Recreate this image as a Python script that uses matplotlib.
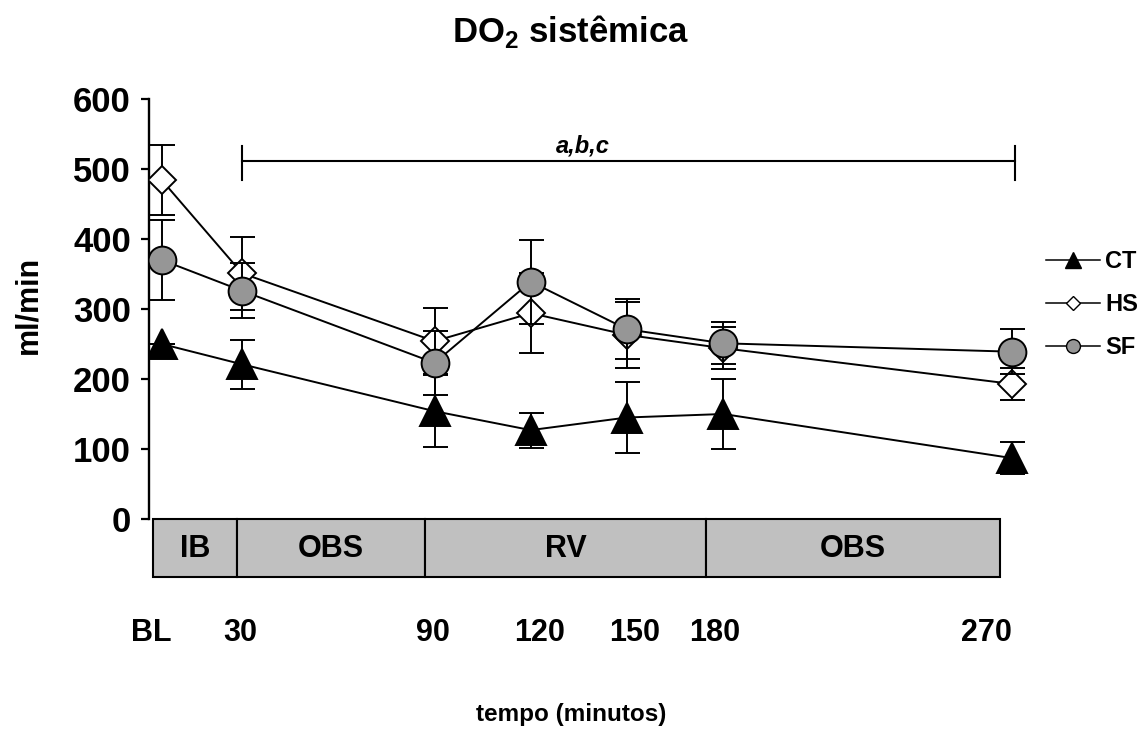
import matplotlib
matplotlib.use("Agg")
import matplotlib.pyplot as plt
from matplotlib.lines import Line2D
from matplotlib.patches import Rectangle

plt.rcParams['font.family'] = ['Liberation Sans', 'DejaVu Sans']
plt.rcParams['font.weight'] = 'bold'
plt.rcParams['mathtext.fontset'] = 'custom'
plt.rcParams['mathtext.rm'] = 'Liberation Sans:bold'
plt.rcParams['mathtext.bf'] = 'Liberation Sans:bold'

# dados (ml/min), media e erro padrao
tempos = [5, 30, 90, 120, 150, 180, 270]
rotulos_x = ['BL', '30', '90', '120', '150', '180', '270']

ct = [250, 221, 154, 127, 145, 150, 87]
ct_ep = [0, 35, 51, 25, 51, 50, 23]
hs = [484, 351, 254, 294, 263, 244, 193]
hs_ep = [50, 52, 47, 57, 47, 30, 23]
sf = [370, 326, 223, 339, 271, 251, 239]
sf_ep = [57, 39, 46, 60, 43, 30, 32]

fases = ['IB', 'OBS', 'RV', 'OBS']
limites_fases = [2.2, 28.4, 87.0, 174.6, 266.3]

# posicao dos rotulos do eixo x (nao coincidem exatamente com os pontos)
pos_rotulos = [1.6, 29.4, 89.5, 122.9, 152.5, 177.3, 261.9]

fig = plt.figure(figsize=(11.42, 7.31), dpi=100)
ax = fig.add_axes([0.1305, 0.290, 0.782, 0.5746])

estilo = dict(color='k', lw=1.4, ecolor='k', elinewidth=1.4,
              capsize=9, capthick=1.6, mec='k', mew=1.4)
ax.errorbar(tempos, ct, yerr=ct_ep, fmt='-^', mfc='k', ms=22, zorder=3, **estilo)
ax.errorbar(tempos, hs, yerr=hs_ep, fmt='-D', mfc='white', ms=14, zorder=4, **estilo)
ax.errorbar(tempos, sf, yerr=sf_ep, fmt='-o', mfc='#969696', ms=20, zorder=5, **estilo)

ax.set_xlim(1, 279.4)
ax.set_ylim(0, 600)
ax.set_yticks(range(0, 601, 100))
ax.tick_params(axis='y', direction='out', length=6, width=1.6, pad=7, labelsize=25)
ax.set_xticks(pos_rotulos)
ax.set_xticklabels(rotulos_x)
ax.tick_params(axis='x', length=0, pad=71, labelsize=22)

for lado in ['top', 'right', 'bottom']:
    ax.spines[lado].set_visible(False)
ax.spines['left'].set_linewidth(1.7)

# faixa com as fases do experimento
for i, nome in enumerate(fases):
    x0, x1 = limites_fases[i], limites_fases[i + 1]
    ax.add_patch(Rectangle((x0, -83), x1 - x0, 83, facecolor='#c0c0c0',
                           edgecolor='k', lw=1.5, clip_on=False))
    ax.text((x0 + x1) / 2, -43, nome, ha='center', va='center', fontsize=22)

# barra de significancia
y_barra = 511
ax.plot([tempos[1], tempos[-1] + 1], [y_barra, y_barra], color='k', lw=1.5)
for xb in [tempos[1], tempos[-1] + 1]:
    ax.plot([xb, xb], [y_barra - 27, y_barra + 22], color='k', lw=1.5)
ax.text(136.3, 524, 'a,b,c', ha='center', va='baseline', fontsize=17, style='italic')

# legenda
handles = [
    Line2D([], [], color='k', lw=1.1, marker='^', ms=11, mfc='k', mec='k'),
    Line2D([], [], color='k', lw=1.1, marker='D', ms=7.5, mfc='white', mec='k'),
    Line2D([], [], color='k', lw=1.1, marker='o', ms=10, mfc='#969696', mec='k'),
]
ax.legend(handles, ['CT', 'HS', 'SF'], loc='upper left',
          bbox_to_anchor=(0.916, 0.658), bbox_transform=fig.transFigure,
          frameon=False, fontsize=17, handlelength=2.3, handletextpad=0.2,
          labelspacing=0.85, borderpad=0, borderaxespad=0)

fig.text(0.5, 1 - 42 / 731, r'DO$_\mathdefault{2}$ sistêmica', ha='center',
         va='baseline', fontsize=25)
fig.text(28 / 1142, 1 - 305 / 731, 'ml/min', rotation=90, ha='center',
         va='center', fontsize=22)
fig.text(0.5, 1 - 715 / 731, 'tempo (minutos)', ha='center', va='center',
         fontsize=17.5)

fig.savefig('out.png', dpi=100)
